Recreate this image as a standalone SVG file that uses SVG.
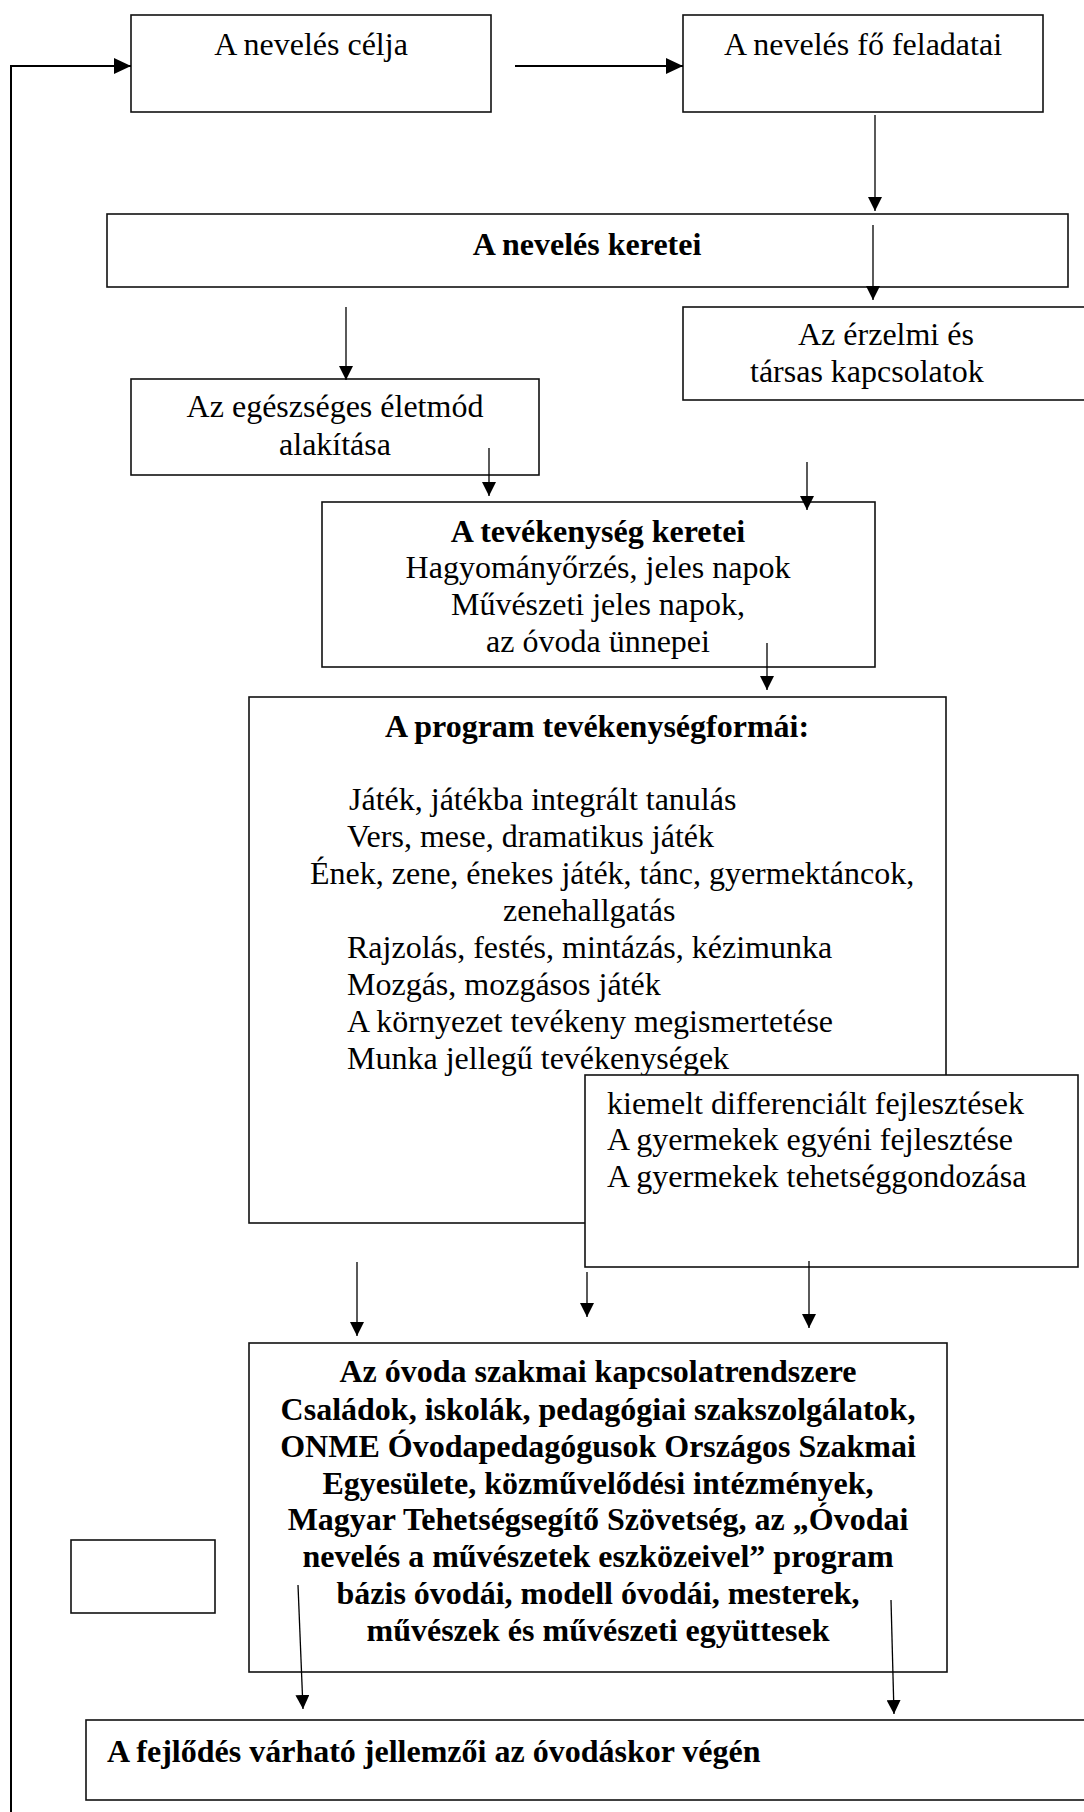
<svg xmlns="http://www.w3.org/2000/svg" width="1084" height="1812" viewBox="0 0 1084 1812">
<style>
  .box { fill: #ffffff; stroke: #111111; stroke-width: 1.6; }
  .t { font-family: "Liberation Serif", "Times New Roman", serif; font-size: 32px; fill: #000000; }
  .b { font-weight: bold; }
  .c { text-anchor: middle; }
  .ln { stroke: #000000; stroke-width: 1.3; fill: none; }
  .lnb { stroke: #000000; stroke-width: 2; fill: none; }
</style>
<defs>
  <marker id="ah" viewBox="0 0 14 14" refX="14" refY="7" markerWidth="14" markerHeight="14" markerUnits="userSpaceOnUse" orient="auto">
    <path d="M0,0 L14,7 L0,14 z" fill="#000000"/>
  </marker>
  <marker id="ahb" viewBox="0 0 17 16" refX="17" refY="8" markerWidth="17" markerHeight="16" markerUnits="userSpaceOnUse" orient="auto">
    <path d="M0,0 L17,8 L0,16 z" fill="#000000"/>
  </marker>
</defs>
<rect width="1084" height="1812" fill="#ffffff"/>

<g id="node-celja">
  <rect class="box" x="131" y="15" width="360" height="97"/>
  <text class="t c" x="311" y="55">A nevelés célja</text>
</g>
<g id="node-feladatai">
  <rect class="box" x="683" y="15" width="360" height="97"/>
  <text class="t c" x="863" y="55">A nevelés fő feladatai</text>
</g>
<g id="node-keretei">
  <rect class="box" x="107" y="214" width="961" height="73"/>
  <text class="t b c" x="587" y="255">A nevelés keretei</text>
</g>
<g id="node-erzelmi">
  <rect class="box" x="683" y="307" width="430" height="93"/>
  <text class="t" x="798" y="345">Az érzelmi és</text>
  <text class="t" x="750" y="382">társas kapcsolatok</text>
</g>
<g id="node-egeszseges">
  <rect class="box" x="131" y="379" width="408" height="96"/>
  <text class="t c" x="335" y="417">Az egészséges életmód</text>
  <text class="t c" x="335" y="455">alakítása</text>
</g>
<g id="node-tevekenyseg">
  <rect class="box" x="322" y="502" width="553" height="165"/>
  <text class="t b c" x="598" y="542">A tevékenység keretei</text>
  <text class="t c" x="598" y="578">Hagyományőrzés, jeles napok</text>
  <text class="t c" x="598" y="615">Művészeti jeles napok,</text>
  <text class="t c" x="598" y="652">az óvoda ünnepei</text>
</g>
<g id="node-program">
  <rect class="box" x="249" y="697" width="697" height="526"/>
  <text class="t b c" x="597" y="737">A program tevékenységformái:</text>
  <text class="t" x="349" y="810">Játék, játékba integrált tanulás</text>
  <text class="t" x="347" y="847">Vers, mese, dramatikus játék</text>
  <text class="t" x="310" y="884">Ének, zene, énekes játék, tánc, gyermektáncok,</text>
  <text class="t" x="503" y="921">zenehallgatás</text>
  <text class="t" x="347" y="958">Rajzolás, festés, mintázás, kézimunka</text>
  <text class="t" x="347" y="995">Mozgás, mozgásos játék</text>
  <text class="t" x="347" y="1032">A környezet tevékeny megismertetése</text>
  <text class="t" x="347" y="1069">Munka jellegű tevékenységek</text>
</g>
<g id="node-differencialt">
  <rect class="box" x="585" y="1075" width="493" height="192"/>
  <text class="t" x="607" y="1114">kiemelt differenciált fejlesztések</text>
  <text class="t" x="607" y="1150">A gyermekek egyéni fejlesztése</text>
  <text class="t" x="607" y="1187">A gyermekek tehetséggondozása</text>
</g>
<g id="node-kapcsolat">
  <rect class="box" x="249" y="1343" width="698" height="329"/>
  <text class="t b c" x="598" y="1382">Az óvoda szakmai kapcsolatrendszere</text>
  <text class="t b c" x="598" y="1420">Családok, iskolák, pedagógiai szakszolgálatok,</text>
  <text class="t b c" x="598" y="1457">ONME Óvodapedagógusok Országos Szakmai</text>
  <text class="t b c" x="598" y="1494">Egyesülete, közművelődési intézmények,</text>
  <text class="t b c" x="598" y="1530">Magyar Tehetségsegítő Szövetség, az „Óvodai</text>
  <text class="t b c" x="598" y="1567">nevelés a művészetek eszközeivel” program</text>
  <text class="t b c" x="598" y="1604">bázis óvodái, modell óvodái, mesterek,</text>
  <text class="t b c" x="598" y="1641">művészek és művészeti együttesek</text>
</g>
<g id="node-empty">
  <rect class="box" x="71" y="1540" width="144" height="73"/>
</g>
<g id="node-fejlodes">
  <rect class="box" x="86" y="1720" width="1020" height="80"/>
  <text class="t b" x="107" y="1762">A fejlődés várható jellemzői az óvodáskor végén</text>
</g>

<g id="connectors">
  <path class="lnb" d="M11,1812 L11,66 L131,66" marker-end="url(#ahb)"/>
  <line class="lnb" x1="515" y1="66" x2="683" y2="66" marker-end="url(#ahb)"/>
  <line class="ln" x1="875" y1="115" x2="875" y2="211" marker-end="url(#ah)"/>
  <line class="ln" x1="873" y1="225" x2="873" y2="300" marker-end="url(#ah)"/>
  <line class="ln" x1="346" y1="307" x2="346" y2="380" marker-end="url(#ah)"/>
  <line class="ln" x1="489" y1="448" x2="489" y2="496" marker-end="url(#ah)"/>
  <line class="ln" x1="807" y1="462" x2="807" y2="510" marker-end="url(#ah)"/>
  <line class="ln" x1="767" y1="643" x2="767" y2="690" marker-end="url(#ah)"/>
  <line class="ln" x1="357" y1="1262" x2="357" y2="1336" marker-end="url(#ah)"/>
  <line class="ln" x1="587" y1="1272" x2="587" y2="1317" marker-end="url(#ah)"/>
  <line class="ln" x1="809" y1="1261" x2="809" y2="1328" marker-end="url(#ah)"/>
  <line class="ln" x1="298" y1="1585" x2="303" y2="1709" marker-end="url(#ah)"/>
  <line class="ln" x1="891" y1="1600" x2="894" y2="1714" marker-end="url(#ah)"/>
</g>
</svg>
